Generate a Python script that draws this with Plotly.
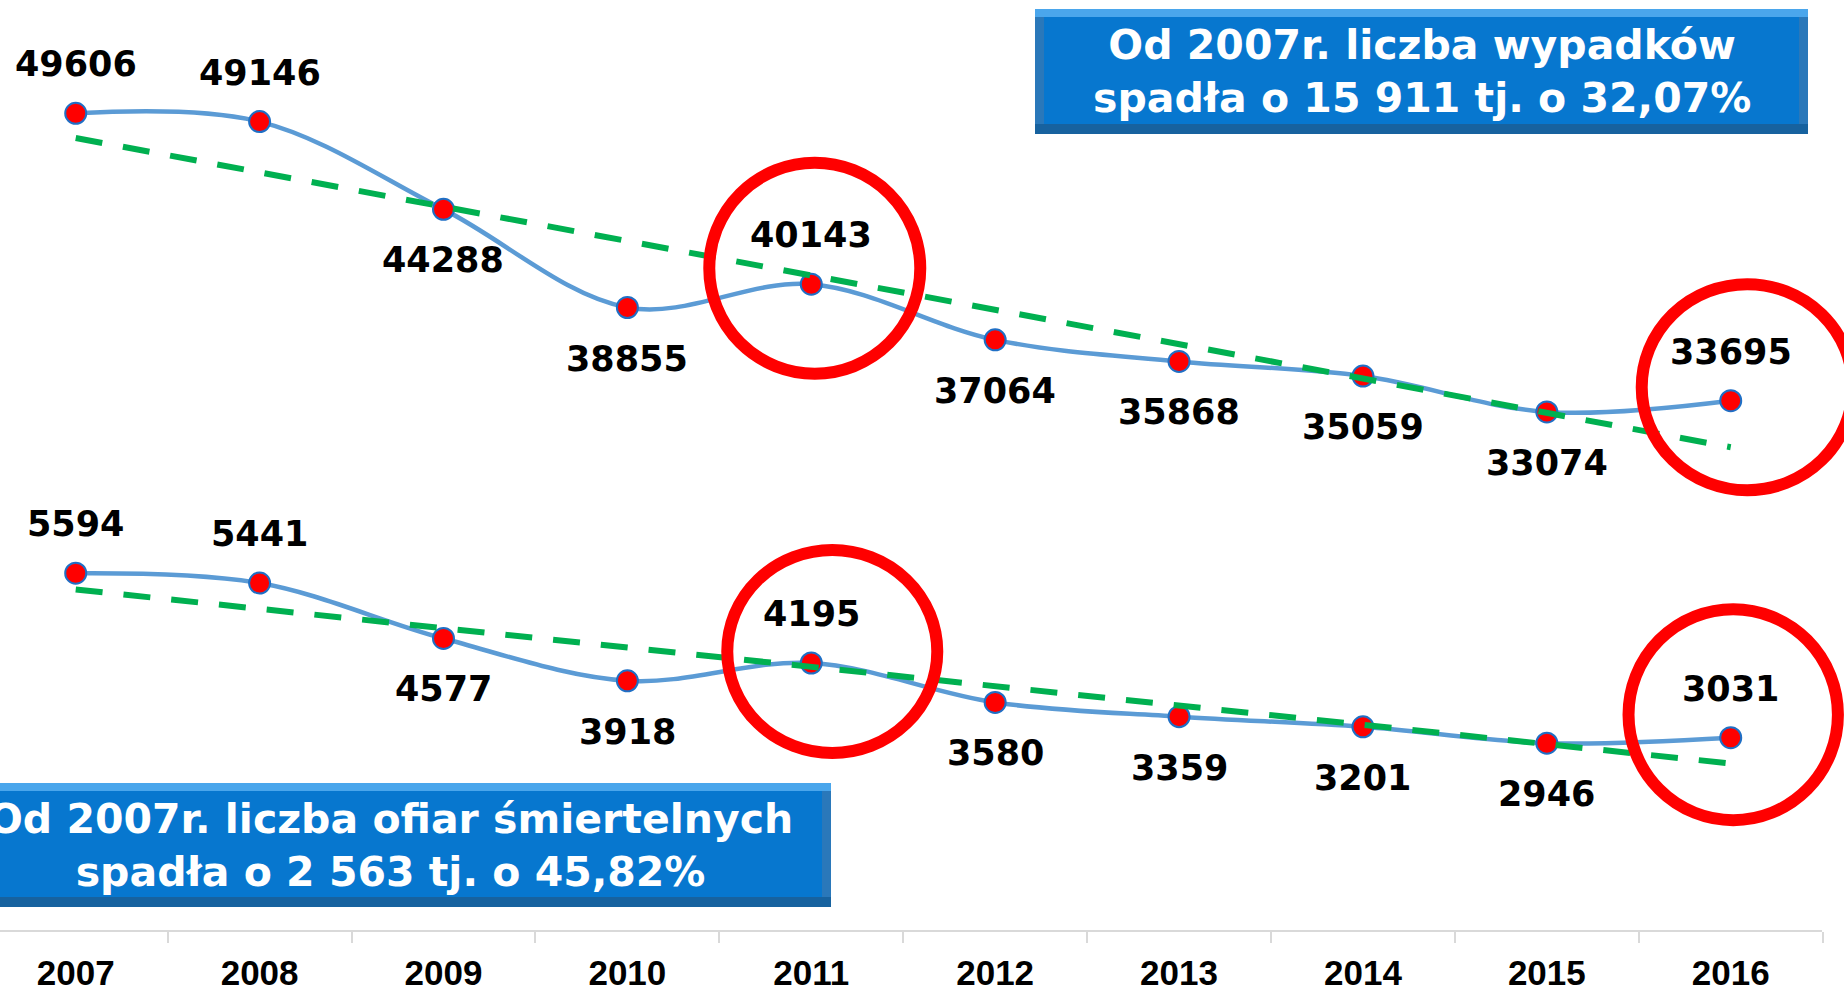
import plotly.graph_objects as go

# ---------------- data ----------------
years = [2007, 2008, 2009, 2010, 2011, 2012, 2013, 2014, 2015, 2016]
year_labels = ["2007", "2008", "2009", "2010", "2011", "2012", "2013", "2014", "2015", "2016"]
accidents = [49606, 49146, 44288, 38855, 40143, 37064, 35868, 35059, 33074, 33695]
fatalities = [5594, 5441, 4577, 3918, 4195, 3580, 3359, 3201, 2946, 3031]
trend_years = [2007, 2016]
accidents_trend = [48240, 31120]      # linear trend line, read at both ends
fatalities_trend = [5340, 2629]
accidents_label_side = ["above", "above", "below", "below", "above",
                        "below", "below", "below", "below", "above"]
fatalities_label_side = ["above", "above", "below", "below", "above",
                         "below", "below", "below", "below", "above"]
highlight_years = [2011, 2016]
box_accidents = "Od 2007r. liczba wypadków<br>spadła o 15 911 tj. o 32,07%"
box_fatalities = "Od 2007r. liczba ofiar śmiertelnych<br>spadła o 2 563 tj. o 45,82%"

# ---------------- styling ----------------
W, H = 1844, 992
MB = 61                      # bottom margin -> axis line position
PH = H - MB                  # plot height
LINE_BLUE = "#5b9bd5"
GREEN = "#00b050"
RED = "#ff0000"
LABEL_FONT = dict(family="DejaVu Sans", size=35, color="black", weight="bold")
BOX_FONT = dict(family="DejaVu Sans", size=41, color="white", weight="bold")


def px(xp):
    return xp / W


def py(yp):
    return (PH - yp) / PH


fig = go.Figure()


def add_series(vals, trend, yaxis):
    fig.add_trace(go.Scatter(
        x=years, y=vals, yaxis=yaxis, mode="lines+markers",
        line=dict(color=LINE_BLUE, width=4.5, shape="spline", smoothing=1.0),
        marker=dict(size=21, color=RED, line=dict(color="#1f6fc5", width=2)),
        hoverinfo="x+y", showlegend=False))
    fig.add_trace(go.Scatter(
        x=trend_years, y=trend, yaxis=yaxis, mode="lines",
        line=dict(color=GREEN, width=6, dash="27px,21px"),
        hoverinfo="skip", showlegend=False))


add_series(accidents, accidents_trend, "y")
add_series(fatalities, fatalities_trend, "y2")

annotations = []
for vals, sides, yref in ((accidents, accidents_label_side, "y"),
                          (fatalities, fatalities_label_side, "y2")):
    for yr, v, s in zip(years, vals, sides):
        annotations.append(dict(
            x=yr, y=v, xref="x", yref=yref, text=str(v), showarrow=False,
            font=LABEL_FONT, yshift=49 if s == "above" else -51))

shapes = []


def add_box(x0, y0, x1, y1, text):
    shapes.append(dict(type="rect", xref="paper", yref="paper",
                       x0=px(x0), x1=px(x1), y0=py(y1), y1=py(y0),
                       fillcolor="#2a78ba", line=dict(width=0), layer="above"))
    shapes.append(dict(type="rect", xref="paper", yref="paper",
                       x0=px(x0), x1=px(x1), y0=py(y0 + 8), y1=py(y0),
                       fillcolor="#4aa6ec", line=dict(width=0), layer="above"))
    shapes.append(dict(type="rect", xref="paper", yref="paper",
                       x0=px(x0), x1=px(x1), y0=py(y1), y1=py(y1 - 10),
                       fillcolor="#17629f", line=dict(width=0), layer="above"))
    shapes.append(dict(type="rect", xref="paper", yref="paper",
                       x0=px(x0 + 9), x1=px(x1 - 9), y0=py(y1 - 10), y1=py(y0 + 8),
                       fillcolor="#0777cf", line=dict(width=0), layer="above"))
    annotations.append(dict(x=px((x0 + x1) / 2), y=py((y0 + y1) / 2),
                            xref="paper", yref="paper", text=text,
                            showarrow=False, font=BOX_FONT, align="center",
                            xanchor="center", yanchor="middle"))


add_box(1035, 9, 1808, 134, box_accidents)
add_box(-50, 783, 831, 907, box_fatalities)

# highlight rings anchored to highlighted points (pixel offsets / radii)
rings = [
    ("y", accidents, highlight_years[0], 3.5, 16, 105.5, 105.5),
    ("y", accidents, highlight_years[1], 16.5, 13.5, 105.5, 103),
    ("y2", fatalities, highlight_years[0], 21, 11.5, 105, 101.5),
    ("y2", fatalities, highlight_years[1], 2.5, 23, 104.7, 105.5),
]
for yref, vals, yr, dx, dy, rx, ry in rings:
    v = vals[years.index(yr)]
    shapes.append(dict(type="circle", xref="x", yref=yref,
                       xsizemode="pixel", ysizemode="pixel",
                       xanchor=yr, yanchor=v,
                       x0=dx - rx, x1=dx + rx, y0=dy - ry, y1=dy + ry,
                       line=dict(color=RED, width=12), layer="above"))

# axis line (ends at last category boundary)
shapes.append(dict(type="line", xref="paper", yref="paper",
                   x0=0, x1=px(1822), y0=0, y1=0,
                   line=dict(color="#d9d9d9", width=2), layer="below"))

boundaries = [y + 0.5 for y in years]

fig.update_layout(
    width=W, height=H,
    margin=dict(l=0, r=0, t=0, b=MB, autoexpand=False),
    paper_bgcolor="white", plot_bgcolor="white",
    showlegend=False,
    xaxis=dict(type="linear", range=[2006.5883, 2016.616], showgrid=False,
               zeroline=False, showline=False, automargin=False,
               tickmode="array", tickvals=years, ticktext=year_labels,
               ticks="outside", ticklen=11, tickwidth=2,
               tickcolor="rgba(0,0,0,0)",
               minor=dict(tickmode="array", tickvals=boundaries,
                          ticks="outside", ticklen=11, tickwidth=2,
                          tickcolor="#d9d9d9", showgrid=False),
               tickfont=dict(family="Liberation Sans", size=35, color="black",
                             weight="bold"),
               ticklabelstandoff=0, fixedrange=True),
    yaxis=dict(range=[4337, 55879], visible=False, fixedrange=True),
    yaxis2=dict(range=[19, 14526], visible=False, overlaying="y",
                fixedrange=True),
    annotations=annotations,
    shapes=shapes,
)

fig.write_html("out.html", post_script="document.body.style.margin='0';",
               config={"displayModeBar": False})
